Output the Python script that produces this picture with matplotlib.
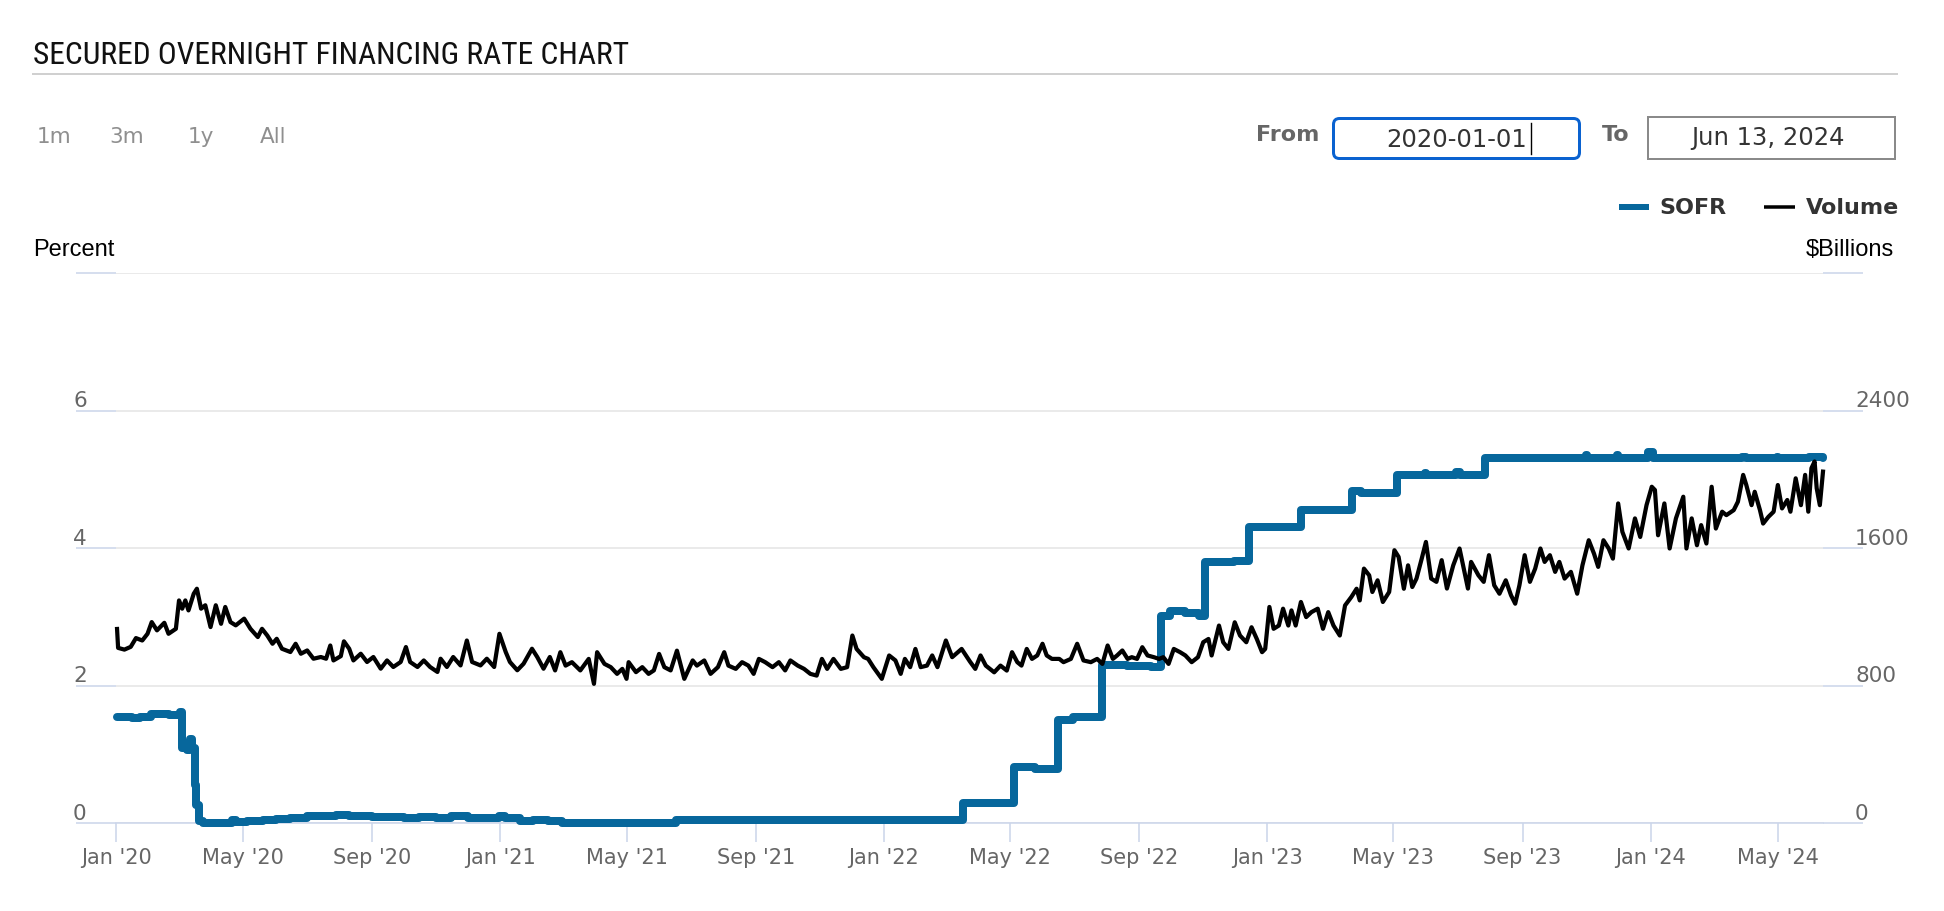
import matplotlib
matplotlib.use("Agg")
import matplotlib.pyplot as plt
import matplotlib.dates as mdates
import matplotlib.transforms as mtransforms
from matplotlib import font_manager as fm
from matplotlib.patches import FancyBboxPatch, Rectangle
import pandas as pd

# ---------------- data ----------------
title_text = "SECURED OVERNIGHT FINANCING RATE CHART"
range_buttons = ["1m", "3m", "1y", "All"]
from_date = "2020-01-01"
to_date = "Jun 13, 2024"
series_names = ["SOFR", "Volume"]
left_axis_title = "Percent"
right_axis_title = "$Billions"
left_ticks = [0, 2, 4, 6, 8]
left_tick_labels = ["0", "2", "4", "6", ""]
right_ticks = [0, 800, 1600, 2400, 3200]
right_tick_labels = ["0", "800", "1600", "2400", ""]

sofr_dates = ["2020-01-02", "2020-01-16", "2020-01-24", "2020-02-03", "2020-02-20", "2020-03-02",
              "2020-03-04", "2020-03-09", "2020-03-11", "2020-03-13", "2020-03-16", "2020-03-17",
              "2020-03-20", "2020-03-24", "2020-04-20", "2020-04-24", "2020-05-05", "2020-05-20",
              "2020-06-01", "2020-06-15", "2020-07-01", "2020-07-28", "2020-08-10", "2020-09-01",
              "2020-10-01", "2020-10-15", "2020-11-01", "2020-11-15", "2020-12-01", "2020-12-15",
              "2020-12-31", "2021-01-05", "2021-01-20", "2021-02-01", "2021-02-15", "2021-03-01",
              "2021-06-17", "2022-03-17", "2022-05-05", "2022-05-25", "2022-06-16", "2022-06-30",
              "2022-07-28", "2022-08-20", "2022-09-12", "2022-09-22", "2022-09-30", "2022-10-15",
              "2022-10-28", "2022-11-03", "2022-11-30", "2022-12-15", "2023-02-02", "2023-03-23",
              "2023-03-31", "2023-05-04", "2023-05-31", "2023-06-01", "2023-06-30", "2023-07-03",
              "2023-07-27", "2023-10-31", "2023-11-01", "2023-11-30", "2023-12-01", "2023-12-29",
              "2024-01-03", "2024-03-28", "2024-04-01", "2024-04-30", "2024-05-01", "2024-05-31",
              "2024-06-03", "2024-06-13"]
sofr_values = [1.55, 1.53, 1.55, 1.59, 1.58, 1.62,
               1.10, 1.07, 1.22, 1.10, 0.55, 0.26,
               0.04, 0.01, 0.05, 0.02, 0.04, 0.05,
               0.06, 0.08, 0.10, 0.12, 0.10, 0.09,
               0.08, 0.09, 0.08, 0.10, 0.07, 0.08,
               0.10, 0.07, 0.04, 0.05, 0.03, 0.01,
               0.05, 0.30, 0.82, 0.79, 1.50, 1.55,
               2.30, 2.29, 2.27, 3.02, 3.08, 3.05,
               3.02, 3.80, 3.82, 4.31, 4.55, 4.83,
               4.80, 5.06, 5.09, 5.06, 5.10, 5.06,
               5.31, 5.35, 5.31, 5.36, 5.31, 5.40,
               5.31, 5.33, 5.31, 5.33, 5.31, 5.33,
               5.32, 5.31]

volume_points = [
    ("2020-01-02", 1130), ("2020-01-03", 1020), ("2020-01-09", 1010), ("2020-01-15", 1026),
    ("2020-01-20", 1077), ("2020-01-26", 1063), ("2020-01-31", 1102), ("2020-02-04", 1170),
    ("2020-02-09", 1122), ("2020-02-16", 1166), ("2020-02-20", 1102), ("2020-02-27", 1131),
    ("2020-03-01", 1296), ("2020-03-04", 1248), ("2020-03-07", 1296), ("2020-03-10", 1238),
    ("2020-03-15", 1335), ("2020-03-18", 1364), ("2020-03-22", 1248), ("2020-03-26", 1268),
    ("2020-03-31", 1141), ("2020-04-05", 1268), ("2020-04-10", 1160), ("2020-04-14", 1258),
    ("2020-04-19", 1170), ("2020-04-24", 1151), ("2020-05-02", 1190), ("2020-05-08", 1131),
    ("2020-05-15", 1083), ("2020-05-19", 1131), ("2020-05-24", 1092), ("2020-05-29", 1044),
    ("2020-06-02", 1073), ("2020-06-07", 1015), ("2020-06-15", 996), ("2020-06-20", 1044),
    ("2020-06-25", 986), ("2020-07-01", 1005), ("2020-07-07", 957), ("2020-07-14", 967),
    ("2020-07-19", 957), ("2020-07-23", 1034), ("2020-07-26", 947), ("2020-08-02", 972),
    ("2020-08-05", 1058), ("2020-08-10", 1015), ("2020-08-14", 947), ("2020-08-21", 986),
    ("2020-08-27", 938), ("2020-09-02", 967), ("2020-09-09", 899), ("2020-09-15", 947),
    ("2020-09-21", 909), ("2020-09-28", 938), ("2020-10-03", 1025), ("2020-10-07", 938),
    ("2020-10-14", 909), ("2020-10-20", 947), ("2020-10-26", 909), ("2020-11-02", 880),
    ("2020-11-05", 957), ("2020-11-11", 909), ("2020-11-17", 967), ("2020-11-24", 918),
    ("2020-11-30", 1063), ("2020-12-05", 938), ("2020-12-13", 918), ("2020-12-19", 957),
    ("2020-12-26", 909), ("2020-12-31", 1102),
    ("2021-01-06", 996), ("2021-01-10", 938), ("2021-01-17", 890), ("2021-01-23", 928),
    ("2021-01-31", 1015), ("2021-02-05", 967), ("2021-02-11", 899), ("2021-02-17", 967),
    ("2021-02-22", 889), ("2021-02-27", 995), ("2021-03-04", 917), ("2021-03-10", 937),
    ("2021-03-18", 889), ("2021-03-26", 956), ("2021-03-31", 811), ("2021-04-03", 995),
    ("2021-04-10", 927), ("2021-04-16", 908), ("2021-04-22", 869), ("2021-04-27", 898),
    ("2021-05-01", 840), ("2021-05-03", 937), ("2021-05-10", 879), ("2021-05-16", 908),
    ("2021-05-22", 869), ("2021-05-27", 889), ("2021-06-01", 985), ("2021-06-06", 908),
    ("2021-06-12", 889), ("2021-06-18", 1004), ("2021-06-25", 840), ("2021-07-03", 947),
    ("2021-07-07", 917), ("2021-07-14", 947), ("2021-07-20", 869), ("2021-07-27", 908),
    ("2021-08-02", 995), ("2021-08-06", 917), ("2021-08-13", 898), ("2021-08-19", 937),
    ("2021-08-25", 917), ("2021-08-30", 869), ("2021-09-04", 956), ("2021-09-10", 937),
    ("2021-09-17", 908), ("2021-09-23", 937), ("2021-09-29", 889), ("2021-10-04", 947),
    ("2021-10-11", 917), ("2021-10-17", 898), ("2021-10-23", 869), ("2021-10-29", 859),
    ("2021-11-03", 956), ("2021-11-08", 898), ("2021-11-14", 956), ("2021-11-21", 898),
    ("2021-11-27", 908), ("2021-12-02", 1092), ("2021-12-06", 1014), ("2021-12-13", 966),
    ("2021-12-17", 956), ("2021-12-22", 908), ("2021-12-30", 840),
    ("2022-01-06", 976), ("2022-01-12", 947), ("2022-01-17", 869), ("2022-01-21", 956),
    ("2022-01-26", 908), ("2022-01-31", 1014), ("2022-02-05", 908), ("2022-02-11", 917),
    ("2022-02-16", 976), ("2022-02-21", 908), ("2022-03-01", 1063), ("2022-03-07", 966),
    ("2022-03-16", 1014), ("2022-03-24", 940), ("2022-03-29", 898), ("2022-04-03", 976),
    ("2022-04-08", 917), ("2022-04-16", 878), ("2022-04-22", 917), ("2022-04-28", 888),
    ("2022-05-03", 995), ("2022-05-08", 937), ("2022-05-12", 917), ("2022-05-17", 1014),
    ("2022-05-22", 956), ("2022-05-27", 976), ("2022-06-01", 1044), ("2022-06-05", 976),
    ("2022-06-10", 956), ("2022-06-17", 956), ("2022-06-21", 937), ("2022-06-28", 956),
    ("2022-07-04", 1044), ("2022-07-10", 947), ("2022-07-17", 937), ("2022-07-23", 956),
    ("2022-07-28", 927), ("2022-08-02", 1034), ("2022-08-07", 956), ("2022-08-11", 976),
    ("2022-08-16", 1005), ("2022-08-21", 956), ("2022-08-25", 966), ("2022-08-30", 956),
    ("2022-09-04", 1024), ("2022-09-09", 976), ("2022-09-15", 966), ("2022-09-20", 956),
    ("2022-09-24", 966), ("2022-09-29", 927), ("2022-10-04", 1014), ("2022-10-10", 995),
    ("2022-10-15", 976), ("2022-10-21", 937), ("2022-10-27", 966), ("2022-11-01", 1053),
    ("2022-11-06", 1072), ("2022-11-09", 976), ("2022-11-16", 1150), ("2022-11-20", 1053),
    ("2022-11-25", 1014), ("2022-12-01", 1169), ("2022-12-06", 1092), ("2022-12-12", 1053),
    ("2022-12-17", 1140), ("2022-12-22", 1072), ("2022-12-27", 995), ("2022-12-30", 1014),
    ("2023-01-03", 1258), ("2023-01-07", 1131), ("2023-01-12", 1150), ("2023-01-16", 1248),
    ("2023-01-21", 1150), ("2023-01-24", 1238), ("2023-01-28", 1150), ("2023-02-02", 1287),
    ("2023-02-07", 1199), ("2023-02-12", 1228), ("2023-02-18", 1248), ("2023-02-23", 1131),
    ("2023-02-28", 1228), ("2023-03-05", 1150), ("2023-03-11", 1092), ("2023-03-16", 1267),
    ("2023-03-22", 1316), ("2023-03-27", 1364), ("2023-03-30", 1296), ("2023-04-03", 1481),
    ("2023-04-08", 1442), ("2023-04-11", 1345), ("2023-04-16", 1413), ("2023-04-21", 1287),
    ("2023-04-27", 1345), ("2023-05-02", 1588), ("2023-05-06", 1549), ("2023-05-11", 1364),
    ("2023-05-15", 1500), ("2023-05-19", 1374), ("2023-05-23", 1423), ("2023-05-28", 1539),
    ("2023-06-01", 1636), ("2023-06-06", 1423), ("2023-06-11", 1404), ("2023-06-16", 1530),
    ("2023-06-21", 1365), ("2023-06-27", 1500), ("2023-07-03", 1598), ("2023-07-11", 1365),
    ("2023-07-14", 1520), ("2023-07-21", 1442), ("2023-07-26", 1404), ("2023-07-31", 1559),
    ("2023-08-05", 1384), ("2023-08-10", 1335), ("2023-08-16", 1413), ("2023-08-21", 1326),
    ("2023-08-25", 1277), ("2023-08-29", 1384), ("2023-09-03", 1559), ("2023-09-08", 1404),
    ("2023-09-13", 1481), ("2023-09-18", 1598), ("2023-09-22", 1520), ("2023-09-27", 1559),
    ("2023-10-02", 1462), ("2023-10-06", 1520), ("2023-10-11", 1423), ("2023-10-17", 1462),
    ("2023-10-23", 1335), ("2023-10-28", 1500), ("2023-11-03", 1646), ("2023-11-08", 1568),
    ("2023-11-12", 1491), ("2023-11-17", 1646), ("2023-11-22", 1598), ("2023-11-26", 1539),
    ("2023-12-01", 1860), ("2023-12-05", 1695), ("2023-12-11", 1598), ("2023-12-17", 1773),
    ("2023-12-22", 1665), ("2023-12-28", 1850),
    ("2024-01-02", 1957), ("2024-01-05", 1938), ("2024-01-08", 1675), ("2024-01-14", 1860),
    ("2024-01-19", 1598), ("2024-01-25", 1773), ("2024-02-01", 1899), ("2024-02-04", 1598),
    ("2024-02-09", 1773), ("2024-02-14", 1617), ("2024-02-18", 1734), ("2024-02-23", 1627),
    ("2024-02-28", 1957), ("2024-03-03", 1714), ("2024-03-09", 1812), ("2024-03-13", 1792),
    ("2024-03-20", 1821), ("2024-03-24", 1870), ("2024-03-29", 2026), ("2024-04-01", 1967),
    ("2024-04-06", 1850), ("2024-04-09", 1928), ("2024-04-14", 1821), ("2024-04-17", 1743),
    ("2024-04-22", 1782), ("2024-04-27", 1812), ("2024-05-01", 1967), ("2024-05-05", 1831),
    ("2024-05-10", 1880), ("2024-05-13", 1812), ("2024-05-18", 2006), ("2024-05-23", 1850),
    ("2024-05-27", 2026), ("2024-05-30", 1812), ("2024-06-02", 2065), ("2024-06-05", 2104),
    ("2024-06-07", 1948), ("2024-06-10", 1850), ("2024-06-13", 2045),
]
vol_dates = [d for d, _ in volume_points]
vol_values = [v for _, v in volume_points]

# ---------------- style ----------------
W, H = 1944, 912
PX = 72.0 / 100.0  # points per pixel
SOFR_COLOR = "#07679c"
GRID_COLOR = "#e6e6e6"
AXIS_COLOR = "#ccd6eb"
LABEL_GRAY = "#666666"
plt.rcParams["font.family"] = ["DejaVu Sans"]


def pick_condensed_font():
    prefs = ["Liberation Sans Narrow", "Roboto Condensed", "Open Sans Condensed",
             "Noto Sans Condensed", "DejaVu Sans Condensed", "Arial Narrow"]
    names = {f.name for f in fm.fontManager.ttflist}
    for p in prefs:
        if p in names:
            return fm.FontProperties(family=p)
    cands = []
    for f in fm.fontManager.ttflist:
        st = str(f.stretch).lower()
        fname = f.fname.lower()
        cond = ("condensed" in st) or ("narrow" in fname) or ("condensed" in fname)
        if not cond or "semi" in st or "semi" in fname:
            continue
        if any(k in fname for k in ["mono", "serif", "italic", "oblique", "bold", "light",
                                     "thin", "black", "medium", "extra", "cjk"]):
            continue
        cands.append(f)
    if cands:
        cands.sort(key=lambda f: (0 if "sans" in f.name.lower() else 1, len(f.fname)))
        return fm.FontProperties(fname=cands[0].fname)
    return fm.FontProperties(family="DejaVu Sans")


fig = plt.figure(figsize=(W / 100, H / 100), dpi=100)
fig.patch.set_facecolor("white")

plot_left, plot_right, plot_top, plot_bottom = 116, 1823, 274, 824.3
ax = fig.add_axes([plot_left / W, (H - plot_bottom) / H,
                   (plot_right - plot_left) / W, (plot_bottom - plot_top) / H])
ax2 = ax.twinx()

sd = pd.to_datetime(sofr_dates)
vd = pd.to_datetime(vol_dates)

ax.plot(sd, sofr_values, drawstyle="steps-post", color=SOFR_COLOR, lw=8 * PX,
        solid_joinstyle="round", solid_capstyle="round", zorder=3, clip_on=False)
ax2.plot(vd, vol_values, color="black", lw=4.2 * PX, solid_joinstyle="round",
         zorder=3, clip_on=False)

ax.set_xlim(pd.Timestamp(from_date), vd[-1])
ax.set_ylim(left_ticks[0], left_ticks[-1])
ax2.set_ylim(right_ticks[0], right_ticks[-1])
ax.set_yticks(left_ticks)
ax2.set_yticks(right_ticks)

ax.set_axisbelow(True)
ax.yaxis.grid(True, color=GRID_COLOR, lw=1.6 * PX)
ax.xaxis.grid(False)
for s in ["top", "left", "right"]:
    ax.spines[s].set_visible(False)
for s in ["top", "left", "right", "bottom"]:
    ax2.spines[s].set_visible(False)
ax.spines["bottom"].set_color(AXIS_COLOR)
ax.spines["bottom"].set_linewidth(1.6 * PX)
ax.spines["bottom"].set_zorder(2.5)
ax.patch.set_visible(False)
ax2.patch.set_visible(False)

ax.tick_params(axis="y", which="both", length=40 * PX, width=1.6 * PX, color=AXIS_COLOR,
               direction="out", labelleft=False, left=True)
ax2.tick_params(axis="y", which="both", length=40 * PX, width=1.6 * PX, color=AXIS_COLOR,
                direction="out", labelright=False, right=True)

ax.xaxis.set_major_locator(mdates.MonthLocator(bymonth=[1, 5, 9]))
ax.xaxis.set_major_formatter(plt.FuncFormatter(
    lambda x, pos: mdates.num2date(x).strftime("%b '%y")))
ax.tick_params(axis="x", length=19 * PX, width=1.6 * PX, color=AXIS_COLOR, direction="out",
               labelsize=15, labelcolor=LABEL_GRAY, pad=5 * PX)

# y labels sitting above the grid lines
tl = mtransforms.offset_copy(ax.get_yaxis_transform(), fig=fig, x=0, y=4.4, units="dots")
for v, lab in zip(left_ticks, left_tick_labels):
    if lab:
        ax.text((73 - plot_left) / (plot_right - plot_left), v, lab, transform=tl,
                ha="left", va="baseline", fontsize=15.5, color=LABEL_GRAY, clip_on=False)
tr = mtransforms.offset_copy(ax2.get_yaxis_transform(), fig=fig, x=0, y=4.4, units="dots")
for v, lab in zip(right_ticks, right_tick_labels):
    if lab:
        ax2.text((1855 - plot_left) / (plot_right - plot_left), v, lab, transform=tr,
                 ha="left", va="baseline", fontsize=15.5, color=LABEL_GRAY, clip_on=False)

# ---------------- UI overlay in pixel coordinates ----------------
ui = fig.add_axes([0, 0, 1, 1])
ui.set_xlim(0, W)
ui.set_ylim(H, 0)
ui.axis("off")

title_fp = pick_condensed_font()
title_fp.set_size(22)
title = ui.text(33, 64.5, title_text, fontproperties=title_fp, ha="left", va="baseline",
                color="#111111")
fig.canvas.draw()
bb = title.get_window_extent(renderer=fig.canvas.get_renderer())
title.set_fontsize(22 * 596.0 / bb.width)

ui.plot([33, 1897], [74.5, 74.5], color="#d0d0d0", lw=2 * PX)

for x, lab in zip([37, 109, 188, 260], range_buttons):
    ui.text(x, 137, lab, fontsize=15.5, color="#8f8f8f", ha="left", va="center")

ui.text(1256, 135, "From", fontsize=16, fontweight="bold", color=LABEL_GRAY, ha="left", va="center")
ui.add_patch(FancyBboxPatch((1333.5, 119.5), 246, 40, boxstyle="round,pad=0,rounding_size=6",
                            fc="white", ec="#0a62d0", lw=3 * PX))
ui.text(1457, 140, from_date, fontsize=17.5, color="#333333", ha="center", va="center")
ui.plot([1531, 1531], [124, 155], color="black", lw=1.4 * PX)

ui.text(1602, 135, "To", fontsize=16, fontweight="bold", color=LABEL_GRAY, ha="left", va="center")
ui.add_patch(Rectangle((1648, 118), 247, 42, fc="white", ec="#8a8a8a", lw=2 * PX))
ui.text(1768, 138, to_date, fontsize=17.5, color="#333333", ha="center", va="center")

# legend
ui.plot([1619, 1649], [208, 208], color=SOFR_COLOR, lw=6 * PX, solid_capstyle="butt")
ui.text(1659, 208, series_names[0], fontsize=16, fontweight="bold", color="#333333",
        ha="left", va="center")
ui.plot([1764, 1795], [208, 208], color="black", lw=3.5 * PX, solid_capstyle="butt")
ui.text(1806, 208, series_names[1], fontsize=16, fontweight="bold", color="#333333",
        ha="left", va="center")

ui.text(33, 250, left_axis_title, fontsize=17, color="black", ha="left", va="center",
        family=["Liberation Sans", "DejaVu Sans"])
ui.text(1894, 250, right_axis_title, fontsize=17, color="black", ha="right", va="center",
        family=["Liberation Sans", "DejaVu Sans"], parse_math=False)

fig.savefig("out.png", dpi=100, facecolor="white")
